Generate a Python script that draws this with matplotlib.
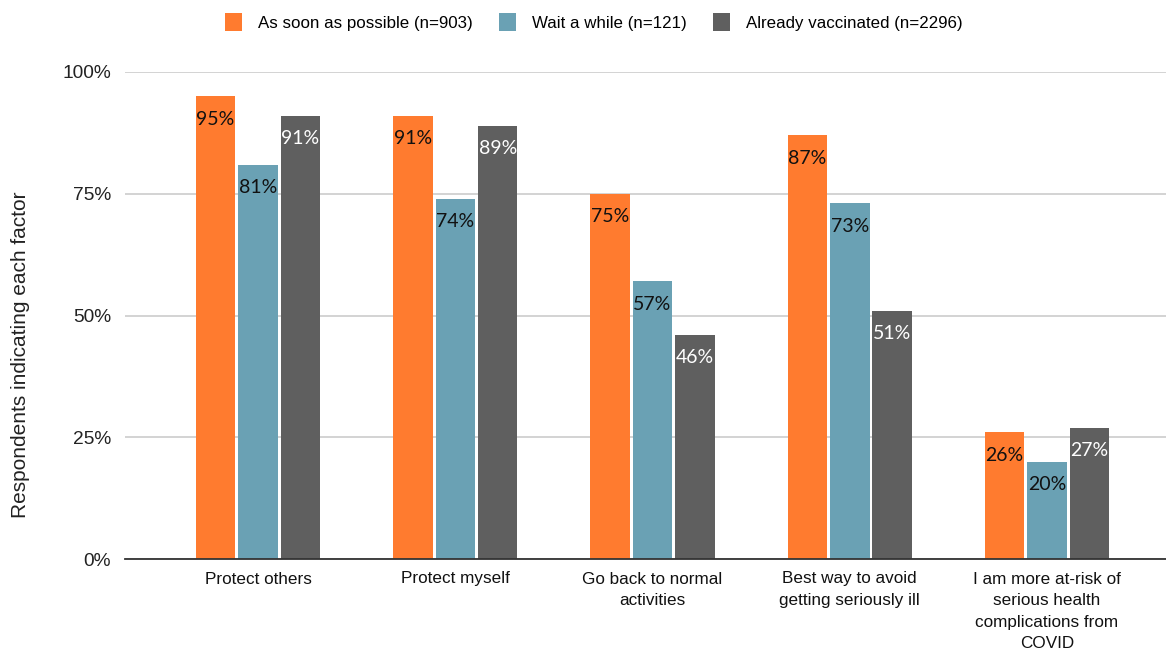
import matplotlib
matplotlib.use("Agg")
import matplotlib.pyplot as plt
import numpy as np

categories = ["Protect others", "Protect myself", "Go back to normal\nactivities",
              "Best way to avoid\ngetting seriously ill",
              "I am more at-risk of\nserious health\ncomplications from\nCOVID"]
series_names = ["As soon as possible (n=903)", "Wait a while (n=121)", "Already vaccinated (n=2296)"]
asap = [95, 91, 75, 87, 26]
wait = [81, 74, 57, 73, 20]
vacc = [91, 89, 46, 51, 27]
colors = ["#ff7b2f", "#6aa1b4", "#5f5f5f"]
label_colors = ["#111111", "#111111", "#ffffff"]
yticks = [0, 25, 50, 75, 100]

fig = plt.figure(figsize=(11.66, 6.51), dpi=100)
ax = fig.add_axes([125/1166, 1-559/651, (1166-125)/1166, (559-72)/651])

x = np.arange(len(categories))
width = 0.2
offsets = [-0.215, 0.0, 0.215]
for s, (vals, off, c, lc) in enumerate(zip([asap, wait, vacc], offsets, colors, label_colors)):
    bars = ax.bar(x + off, vals, width, color=c, label=series_names[s], zorder=3)
    for b, v in zip(bars, vals):
        ax.text(b.get_x() + 0.003, v - 4.7, f"{v}%", ha="left", va="center",
                color=lc, fontsize=14, family="Lato", zorder=4)

ax.set_xlim(-0.674, 4.603)
ax.set_ylim(0, 100)
ax.set_yticks(yticks)
ax.set_yticklabels([f"{t}%" for t in yticks], fontsize=13.8, color="#222222", family="Liberation Sans")
ax.set_xticks(x)
ax.set_xticklabels(categories, fontsize=12.3, color="#111111", family="Liberation Sans", linespacing=1.55)
ax.tick_params(axis="x", length=0, pad=9)
ax.tick_params(axis="y", length=0, pad=10)
ax.yaxis.grid(True, color="#cccccc", linewidth=1.2, zorder=0)
ax.set_axisbelow(True)
for sp in ["top", "right", "left"]:
    ax.spines[sp].set_visible(False)
ax.spines["bottom"].set_color("#333333")
ax.spines["bottom"].set_linewidth(1.3)
ax.spines["bottom"].set_zorder(5)

fig.text(21/1166, 1-355/651, "Respondents indicating each factor", rotation=90,
         ha="center", va="center", fontsize=15, color="#222222", family="Liberation Sans")

leg = fig.legend(loc="center", bbox_to_anchor=(594/1166, 1-22/651), ncol=3, frameon=False,
                 prop={"family": "Liberation Sans", "size": 12.2},
                 handlelength=1.0, handleheight=1.3, columnspacing=1.55, handletextpad=0.95)

fig.savefig("out.png", dpi=100)
